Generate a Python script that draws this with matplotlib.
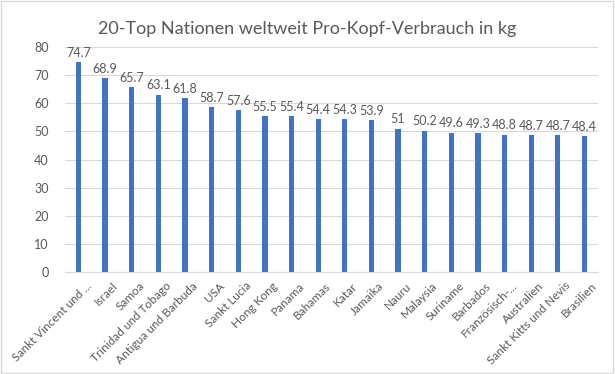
import numpy as np
import matplotlib

matplotlib.use("Agg")

import matplotlib.pyplot as plt
import matplotlib.transforms as mtransforms

plt.rcParams["font.family"] = ["Lato", "DejaVu Sans"]

# Data
countries = [
    "Sankt Vincent und ...", "Israel", "Samoa", "Trinidad und Tobago",
    "Antigua und Barbuda", "USA", "Sankt Lucia", "Hong Kong", "Panama",
    "Bahamas", "Katar", "Jamaika", "Nauru", "Malaysia", "Suriname",
    "Barbados", "Französisch-...", "Australien", "Sankt Kitts und Nevis",
    "Brasilien",
]
values = [74.7, 68.9, 65.7, 63.1, 61.8, 58.7, 57.6, 55.5, 55.4, 54.4,
          54.3, 53.9, 51, 50.2, 49.6, 49.3, 48.8, 48.7, 48.7, 48.4]
yticks = np.arange(0, 81, 10)

text_color = "#595959"
bar_color = "#4472C4"

fig = plt.figure(figsize=(6.15, 3.74), dpi=100)
ax = fig.add_axes([0.106, 0.273, 0.866, 0.601])

x = np.arange(len(countries))
ax.bar(x, values, width=0.2, color=bar_color, zorder=3)

# value labels above the bars
for xi, v in zip(x, values):
    ax.text(xi, v + 1.2, f"{v:g}", ha="center", va="bottom",
            fontsize=9, color=text_color)

ax.set_xlim(-0.5, len(countries) - 0.5)
ax.set_ylim(0, 80)
ax.set_yticks(yticks)
ax.set_xticks(x)
ax.set_xticklabels(countries, rotation=45, ha="right",
                   rotation_mode="anchor", fontsize=8.5, color=text_color)
ax.tick_params(axis="y", labelsize=9, labelcolor=text_color, length=0, pad=12)
ax.tick_params(axis="x", length=0, pad=6)

# nudge rotated labels a bit to the right, like Excel does
shift = mtransforms.ScaledTranslation(5 / 72, 0, fig.dpi_scale_trans)
for lbl in ax.get_xticklabels():
    lbl.set_transform(lbl.get_transform() + shift)

ax.grid(axis="y", color="#D9D9D9", linewidth=0.8, zorder=0)
for side in ["top", "right", "left"]:
    ax.spines[side].set_visible(False)
ax.spines["bottom"].set_color("#D9D9D9")

fig.suptitle("20-Top Nationen weltweit Pro-Kopf-Verbrauch in kg",
             fontsize=13, color=text_color, y=0.945)

# light border around the chart
fig.patches.append(plt.Rectangle((0.002, 0.003), 0.995, 0.994,
                                 transform=fig.transFigure, fill=False,
                                 edgecolor="#D9D9D9", linewidth=1))

fig.savefig("out.png", dpi=100)
